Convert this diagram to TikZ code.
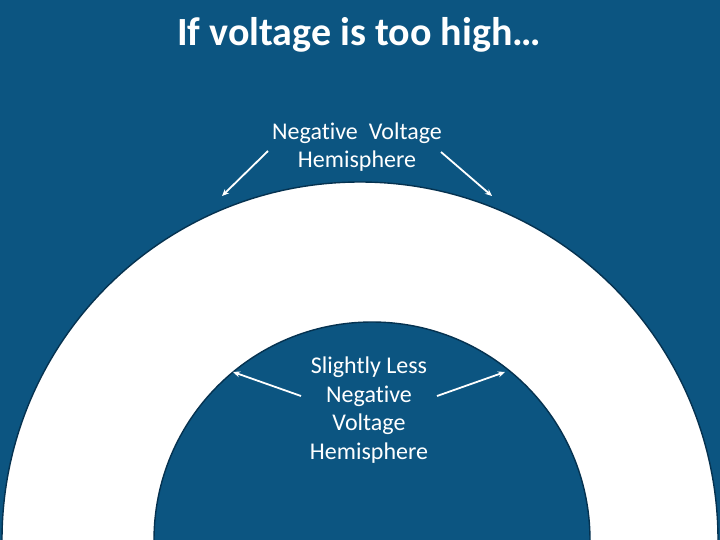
\documentclass[tikz,border=0pt]{standalone}
\usepackage{fontspec}
\setmainfont{Carlito}[RawFeature=-liga]
\usetikzlibrary{arrows.meta}
\definecolor{bg}{RGB}{12,85,129}
\definecolor{edge}{RGB}{5,50,80}
\begin{document}
\begin{tikzpicture}[x=1pt,y=-1pt,
  lbl/.style={text=white,font=\fontsize{24}{28.7}\selectfont,align=center,inner sep=0pt},
  ptr/.style={white,line width=1.8pt,-{Stealth[length=7pt,width=6pt]}},
  rim/.style={draw=edge,line width=1.4pt}]
\fill[bg] (0,0) rectangle (720,540);
\useasboundingbox (0,0) rectangle (720,540);
% outer white hemisphere
\fill[white] (2,540) arc[start angle=180,end angle=360,radius=358] -- cycle;
\draw[rim] (2,540) arc[start angle=180,end angle=360,radius=358];
% inner blue hemisphere
\fill[bg] (154,540) arc[start angle=180,end angle=360,radius=218] -- cycle;
\draw[rim] (154,540) arc[start angle=180,end angle=360,radius=218];
% texts
\node[text=white,font=\bfseries\fontsize{40}{46}\selectfont] (title) at (359,35) {If voltage is too high\ldots};
\node[lbl] (outer) at (357,147) {Negative\ \ Voltage\\Hemisphere};
\node[lbl] (inner) at (369,410) {Slightly Less\\Negative\\Voltage\\Hemisphere};
% arrow ends
\coordinate (t1) at (268,151);
\coordinate (h1) at (222,196);
\coordinate (t2) at (441,152);
\coordinate (h2) at (492,196);
\coordinate (t3) at (301,396);
\coordinate (h3) at (233,372);
\coordinate (t4) at (437,396);
\coordinate (h4) at (505,372);
\draw[ptr] (t1) -- (h1);
\draw[ptr] (t2) -- (h2);
\draw[ptr] (t3) -- (h3);
\draw[ptr] (t4) -- (h4);
\end{tikzpicture}
\end{document}
